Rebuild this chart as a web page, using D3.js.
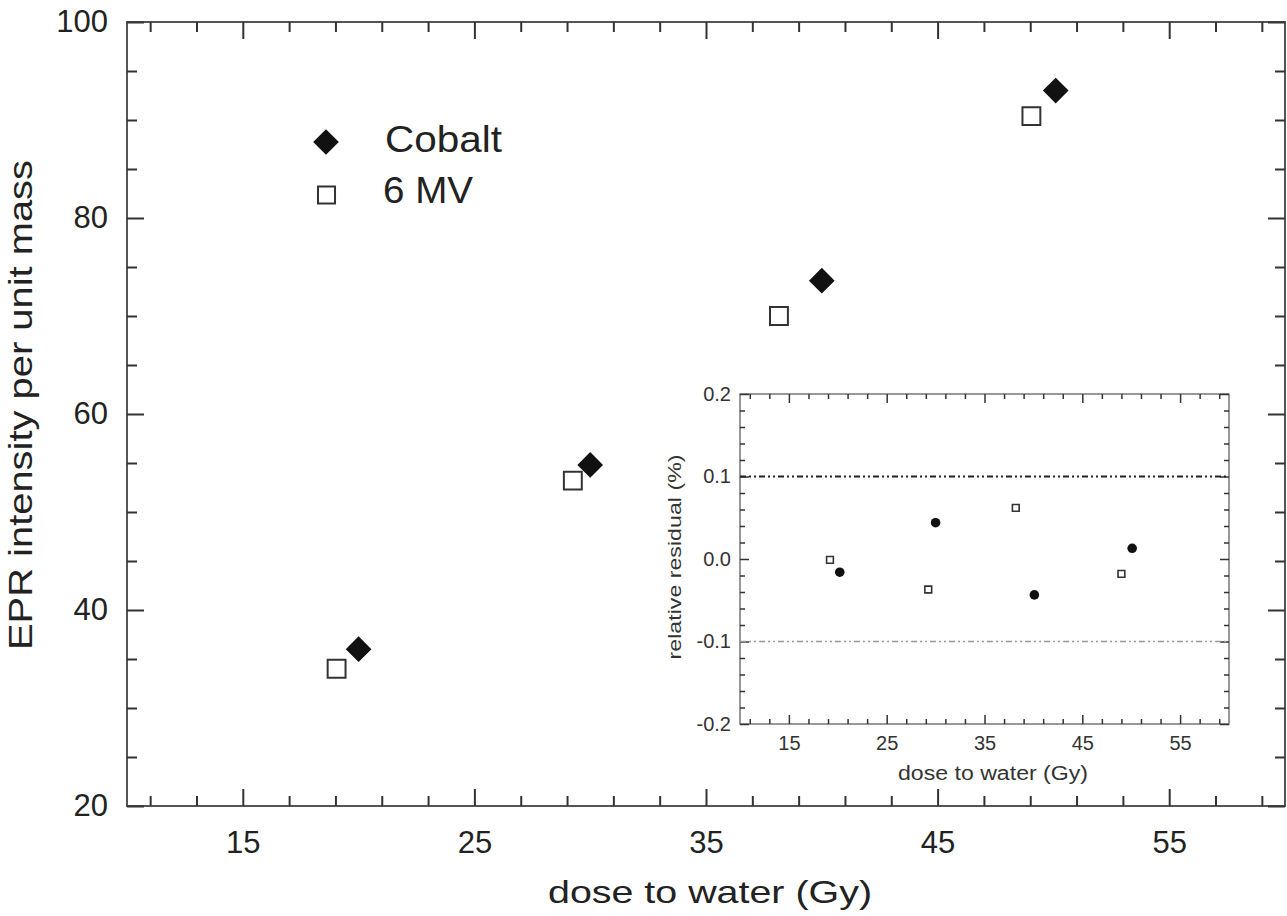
<!DOCTYPE html>
<html>
<head>
<meta charset="utf-8">
<script src="https://cdn.jsdelivr.net/npm/d3@7"></script>
<style>
  html, body { margin: 0; padding: 0; background: #fff; }
  svg { display: block; font-family: "Liberation Sans", Arial, Helvetica, sans-serif; }
</style>
</head>
<body>
<script>
// main panel: EPR intensity vs dose
const cobaltDose = [20.0, 30.0, 40.0, 50.1];
const cobaltEPR = [36.0, 54.8, 73.6, 93.0];
const mvDose = [19.05, 29.25, 38.15, 49.05];
const mvEPR = [34.0, 53.2, 70.0, 90.4];

// inset: relative residuals (%)
const residCobaltDose = [20.2, 30.0, 40.1, 50.1];
const residCobalt = [-0.016, 0.044, -0.0435, 0.013];
const residMvDose = [19.2, 29.25, 38.2, 49.0];
const residMv = [-0.001, -0.037, 0.062, -0.018];
const residLimits = [0.1, -0.1];

// ticks
const doseTicks = [15, 25, 35, 45, 55];
const doseMinor = d3.range(11, 60, 2);
const eprTicks = [20, 40, 60, 80, 100];
const eprMinor = d3.range(20, 101, 5);
const residTicks = [-0.2, -0.1, 0.0, 0.1, 0.2];
const residMinor = d3.range(-10, 11).map(i => i * 0.02);

const width = 1287, height = 916;

const svg = d3.select("body").append("svg")
  .attr("width", width)
  .attr("height", height);

// draws a boxed frame with inward ticks on all four sides
function frame(g, x, y, o) {
  const [x0, x1] = x.range();
  const [y0, y1] = y.range(); // y0 bottom, y1 top
  const clean = s => s.select(".domain").remove();
  const minorX = o.xMinor.filter(v => !o.xTicks.includes(v));
  const minorY = o.yMinor.filter(v => !o.yTicks.some(t => Math.abs(t - v) < 1e-9));

  g.append("rect")
    .attr("x", x0).attr("y", y1)
    .attr("width", x1 - x0).attr("height", y0 - y1)
    .attr("fill", o.bg || "none")
    .attr("stroke", o.frameColor)
    .attr("stroke-width", o.frameWidth);

  const axes = [
    [d3.axisBottom(x), `translate(0,${y0})`, minorX, o.xTicks, true],
    [d3.axisTop(x), `translate(0,${y1})`, minorX, o.xTicks, false],
    [d3.axisLeft(y), `translate(${x0},0)`, minorY, o.yTicks, true],
    [d3.axisRight(y), `translate(${x1},0)`, minorY, o.yTicks, false]
  ];
  axes.forEach(([axis, tr, minor, major, labelled], i) => {
    const isX = i < 2;
    g.append("g").attr("transform", tr)
      .call(axis.tickValues(minor).tickSize(-o.minorLen).tickFormat(""))
      .call(clean)
      .selectAll("line").attr("stroke", o.tickColor).attr("stroke-width", o.tickWidth);
    const a = g.append("g").attr("transform", tr)
      .call(axis.tickValues(major).tickSize(-o.majorLen)
        .tickPadding(isX ? o.xPad : o.yPad)
        .tickFormat(labelled ? (isX ? o.xFormat : o.yFormat) : ""))
      .call(clean);
    a.selectAll("line").attr("stroke", o.tickColor).attr("stroke-width", o.tickWidth);
    a.selectAll("text")
      .attr("font-size", o.fontSize)
      .attr("font-family", "Liberation Sans, Arial, sans-serif")
      .attr("fill", o.textColor);
  });
}

// ---------- main panel ----------
const x = d3.scaleLinear().domain([10, 60]).range([127, 1285]);
const y = d3.scaleLinear().domain([20, 100]).range([806, 22]);

const main = svg.append("g");
frame(main, x, y, {
  xTicks: doseTicks, xMinor: doseMinor,
  yTicks: eprTicks, yMinor: eprMinor,
  minorLen: 10, majorLen: 17,
  xPad: 25, yPad: 19,
  xFormat: d3.format("d"), yFormat: d3.format("d"),
  fontSize: 31, frameColor: "#555", frameWidth: 2,
  tickColor: "#333", tickWidth: 2, textColor: "#222"
});

main.append("text")
  .attr("x", 710).attr("y", 903)
  .attr("text-anchor", "middle")
  .attr("font-size", 32)
  .attr("textLength", 324).attr("lengthAdjust", "spacingAndGlyphs")
  .attr("fill", "#222")
  .text("dose to water (Gy)");

main.append("text")
  .attr("transform", "translate(32,405) rotate(-90)")
  .attr("text-anchor", "middle")
  .attr("font-size", 34)
  .attr("textLength", 490).attr("lengthAdjust", "spacingAndGlyphs")
  .attr("fill", "#222")
  .text("EPR intensity per unit mass");

const bigDiamond = d3.symbol(d3.symbolSquare, 330);
const bigSquare = d3.symbol(d3.symbolSquare, 320);

main.append("g").selectAll("path")
  .data(mvDose.map((d, i) => [d, mvEPR[i]]))
  .join("path")
  .attr("transform", d => `translate(${x(d[0])},${y(d[1])})`)
  .attr("d", bigSquare)
  .attr("fill", "#fff").attr("stroke", "#333").attr("stroke-width", 2);

main.append("g").selectAll("path")
  .data(cobaltDose.map((d, i) => [d, cobaltEPR[i]]))
  .join("path")
  .attr("transform", d => `translate(${x(d[0])},${y(d[1])}) rotate(45)`)
  .attr("d", bigDiamond)
  .attr("fill", "#111");

// legend
const legend = main.append("g");
legend.append("path")
  .attr("transform", "translate(326,142) rotate(45)")
  .attr("d", bigDiamond).attr("fill", "#111");
legend.append("path")
  .attr("transform", "translate(326.5,195)")
  .attr("d", d3.symbol(d3.symbolSquare, 290))
  .attr("fill", "#fff").attr("stroke", "#333").attr("stroke-width", 2);
legend.append("text")
  .attr("x", 385).attr("y", 152)
  .attr("font-size", 36)
  .attr("textLength", 117).attr("lengthAdjust", "spacingAndGlyphs")
  .attr("fill", "#222").text("Cobalt");
legend.append("text")
  .attr("x", 383).attr("y", 203)
  .attr("font-size", 36)
  .attr("textLength", 90).attr("lengthAdjust", "spacingAndGlyphs")
  .attr("fill", "#222").text("6 MV");

// ---------- inset ----------
const ix = d3.scaleLinear().domain([10, 60]).range([740, 1229]);
const iy = d3.scaleLinear().domain([-0.2, 0.2]).range([724, 394]);

const inset = svg.append("g");
frame(inset, ix, iy, {
  xTicks: doseTicks, xMinor: doseMinor,
  yTicks: residTicks, yMinor: residMinor,
  minorLen: 5, majorLen: 9,
  xPad: 12, yPad: 9,
  xFormat: d3.format("d"), yFormat: d3.format(".1f"),
  fontSize: 20, bg: "#fff", frameColor: "#777", frameWidth: 1.5,
  tickColor: "#333", tickWidth: 1.5, textColor: "#333"
});
inset.selectAll("text").filter(function () { return this.textContent.startsWith("−"); })
  .text(function () { return this.textContent.replace("−", "-"); });

inset.append("g").selectAll("line")
  .data(residLimits)
  .join("line")
  .attr("x1", ix.range()[0]).attr("x2", ix.range()[1])
  .attr("y1", d => iy(d)).attr("y2", d => iy(d))
  .attr("stroke", d => d > 0 ? "#222" : "#999")
  .attr("stroke-width", d => d > 0 ? 2 : 1.6)
  .attr("stroke-dasharray", "6,3,2,3,2,3");

inset.append("g").selectAll("path")
  .data(residMvDose.map((d, i) => [d, residMv[i]]))
  .join("path")
  .attr("transform", d => `translate(${ix(d[0])},${iy(d[1])})`)
  .attr("d", d3.symbol(d3.symbolSquare, 46))
  .attr("fill", "#fff").attr("stroke", "#333").attr("stroke-width", 1.6);

inset.append("g").selectAll("circle")
  .data(residCobaltDose.map((d, i) => [d, residCobalt[i]]))
  .join("circle")
  .attr("cx", d => ix(d[0])).attr("cy", d => iy(d[1]))
  .attr("r", 4.8)
  .attr("fill", "#111");

inset.append("text")
  .attr("x", 993).attr("y", 780)
  .attr("text-anchor", "middle")
  .attr("font-size", 20)
  .attr("textLength", 190).attr("lengthAdjust", "spacingAndGlyphs")
  .attr("fill", "#333")
  .text("dose to water (Gy)");

inset.append("text")
  .attr("transform", "translate(681,557) rotate(-90)")
  .attr("text-anchor", "middle")
  .attr("font-size", 19)
  .attr("textLength", 205).attr("lengthAdjust", "spacingAndGlyphs")
  .attr("fill", "#333")
  .text("relative residual (%)");
</script>
</body>
</html>
